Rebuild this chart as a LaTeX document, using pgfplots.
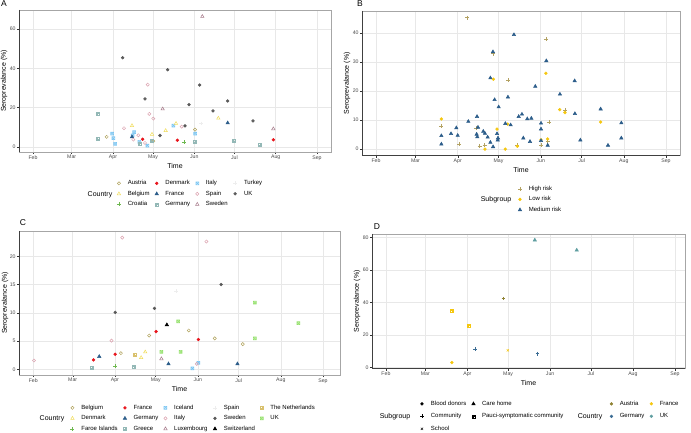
\documentclass[border=0pt]{standalone}
\usepackage{fontspec}
\setmainfont{Liberation Sans}
\usepackage{pgfplots}
\pgfplotsset{compat=1.18}

% country / group colours
\definecolor{c1}{HTML}{B0A25C}
\definecolor{c2}{HTML}{F0DC5A}
\definecolor{c3}{HTML}{6DB84F}
\definecolor{c4}{HTML}{E8141C}
\definecolor{c5}{HTML}{2C5D8A}
\definecolor{c6}{HTML}{93B8B6}
\definecolor{c7}{HTML}{7CC6F2}
\definecolor{c8}{HTML}{DBA1AE}
\definecolor{c9}{HTML}{A67A8A}
\definecolor{c10}{HTML}{EDEDED}
\definecolor{c11}{HTML}{595959}
\definecolor{c12}{HTML}{000000}
\definecolor{c13}{HTML}{D9C16E}
\definecolor{c14}{HTML}{93E06A}
\definecolor{hr}{HTML}{B3A263}
\definecolor{lr}{HTML}{F5C710}
\definecolor{mr}{HTML}{2C5D8A}
\definecolor{dAT}{HTML}{8F8233}
\definecolor{dFR}{HTML}{F5C710}
\definecolor{dDE}{HTML}{3B6C94}
\definecolor{dUK}{HTML}{5F9EA0}

% square with plus / square with cross
\pgfdeclareplotmark{boxplus}{%
  \pgfpathrectangle{\pgfpoint{-0.75\pgfplotmarksize}{-0.75\pgfplotmarksize}}{\pgfpoint{1.5\pgfplotmarksize}{1.5\pgfplotmarksize}}%
  \pgfpathmoveto{\pgfpoint{-0.75\pgfplotmarksize}{0pt}}\pgfpathlineto{\pgfpoint{0.75\pgfplotmarksize}{0pt}}%
  \pgfpathmoveto{\pgfpoint{0pt}{-0.75\pgfplotmarksize}}\pgfpathlineto{\pgfpoint{0pt}{0.75\pgfplotmarksize}}%
  \pgfusepathqstroke}
\pgfdeclareplotmark{boxtimes}{%
  \pgfpathrectangle{\pgfpoint{-0.75\pgfplotmarksize}{-0.75\pgfplotmarksize}}{\pgfpoint{1.5\pgfplotmarksize}{1.5\pgfplotmarksize}}%
  \pgfpathmoveto{\pgfpoint{-0.75\pgfplotmarksize}{-0.75\pgfplotmarksize}}\pgfpathlineto{\pgfpoint{0.75\pgfplotmarksize}{0.75\pgfplotmarksize}}%
  \pgfpathmoveto{\pgfpoint{-0.75\pgfplotmarksize}{0.75\pgfplotmarksize}}\pgfpathlineto{\pgfpoint{0.75\pgfplotmarksize}{-0.75\pgfplotmarksize}}%
  \pgfusepathqstroke}

\pgfplotsset{
  pt/.style={only marks, mark options={solid, line width=0.5pt},
    legend image code/.code={\draw[##1] plot coordinates {(0pt,0pt)};}},
  sO/.style={pt, mark=o, color=#1, mark size=1.6pt},
  sT/.style={pt, mark=triangle, color=#1, mark size=1.95pt},
  sP/.style={pt, mark=+, color=#1, mark size=1.95pt},
  sD/.style={pt, mark=*, color=#1, mark size=1.4pt},
  sF/.style={pt, mark=triangle*, color=#1, mark size=1.95pt},
  sB/.style={pt, mark=boxplus, color=#1, mark size=2pt},
  sX/.style={pt, mark=boxtimes, color=#1, mark size=2pt},
  sx/.style={pt, mark=x, color=#1, mark size=1.6pt},
  leg/.style={
    legend cell align=left,
    legend style={draw=none, fill=none, inner sep=0pt, outer sep=0pt,
      anchor=north west, font=\fontsize{6}{7}\selectfont,
      nodes={inner sep=0pt, text height=4.4pt, text depth=1.3pt},
      row sep=4.8pt, column sep=7pt,
      /tikz/every even column/.append style={column sep=5.5pt}},
  },
  panel/.style={
    leg, scale only axis, anchor=south west,
    xmin=20.5, xmax=254.5,
    xtick={31,60,91,121,152,182,213,244},
    xticklabels={Feb,Mar,Apr,May,Jun,Jul,Aug,Sep},
    tick pos=left, tick align=outside, major tick length=2.2pt,
    tick style={color=black!80, line width=0.4pt},
    grid=major, major grid style={color=black!9, line width=0.5pt},
    axis line style={color=black!35, line width=0.5pt},
    ticklabel style={font=\fontsize{5.2}{6}\selectfont, text=black!70, inner sep=1pt},
    /pgf/number format/assume math mode=true,
    xlabel={Time}, ylabel={Seroprevalance (\%)},
    label style={font=\fontsize{7}{8}\selectfont},
  },
}
\newcommand{\darkaxes}{\draw[black!75, line width=0.5pt] (rel axis cs:0,1) -- (rel axis cs:0,0) -- (rel axis cs:1,0);}

\begin{document}
\begin{tikzpicture}
\useasboundingbox (0,0) rectangle (691pt,433pt);

% ---------------- A ----------------
\begin{axis}[panel, at={(19pt,281pt)}, width=312pt, height=142pt,
  ymin=-2.6, ymax=69.7, ytick={0,20,40,60},
  ylabel style={at={(axis description cs:-0.048,0.5)}, anchor=center},
  xlabel style={at={(axis description cs:0.5,-0.0986)}, anchor=center},
  legend columns=4, legend style={at={(0.314,-0.2007)}}]
\addplot[sO=c1] coordinates {(86.25,5.1) (152.5,8.8) (121.25,2.9)};
\addlegendentry{Austria}
\addplot[sD=c4] coordinates {(113.25,3.9) (139.25,3.4) (211.25,3.6)};
\addlegendentry{Denmark}
\addplot[sX=c7] coordinates {(90.25,6.8) (91.25,4.4) (92.5,1.5) (106.75,7.5) (105.75,5.8) (110.75,2.5) (116.75,0.7) (136.25,10.8) (152.5,6.8)};
\addlegendentry{Italy}
\addplot[sP=c10] coordinates {(157,11.9)};
\addlegendentry{Turkey}
\addplot[sT=c2] coordinates {(105.25,10.8) (120.25,6.4) (130.5,8.3) (138.25,11.9) (170,14.6)};
\addlegendentry{Belgium}
\addplot[sF=c5] coordinates {(105.25,5.1) (177,12.2)};
\addlegendentry{France}
\addplot[sO=c8] coordinates {(99.25,9.5) (117,31.7) (118.25,16.8) (121.25,14.4) (106.25,3.7) (110,5.9) (115,2.0) (142.5,10.3)};
\addlegendentry{Spain}
\addplot[sD=c11] coordinates {(98.25,45.4) (115,24.4) (132,39.3) (126.25,5.8) (145,10.7) (148,21.5) (156,31.5) (166,18.3) (177,23.4) (196,13.2)};
\addlegendentry{UK}
\addplot[sP=c3] coordinates {(144.5,2.4)};
\addlegendentry{Croatia}
\addplot[sB=c6] coordinates {(79.25,16.9) (79.25,4.1) (110.75,1.7) (120,2.9) (152.5,2.4) (181.25,2.9) (201.25,1.0)};
\addlegendentry{Germany}
\addplot[sT=c9] coordinates {(158,66.4) (128.25,19.3) (211.25,9.2)};
\addlegendentry{Sweden}
\darkaxes
\end{axis}

% ---------------- B ----------------
\begin{axis}[panel, at={(362pt,277.3pt)}, width=318pt, height=144.7pt,
  xmin=20.7, xmax=254.3,
  ymin=-2.27, ymax=47.57, ytick={0,10,20,30,40},
  ylabel style={at={(axis description cs:-0.047,0.5)}, anchor=center},
  xlabel style={at={(axis description cs:0.5,-0.099)}, anchor=center},
  legend columns=1, legend style={at={(0.4906,-0.2094)}}]
\addplot[sP=hr] coordinates {(98.1,45.3) (79,8.0) (92,1.8) (107.1,1.1) (110.8,1.3) (104.4,7.2) (117.2,32.9) (128,23.7) (134.8,1.3) (155.8,37.8) (152.2,1.4) (157.1,2.6) (158,9.3) (170,13.5)};
\addlegendentry{High risk}
\addplot[sD=lr] coordinates {(79,10.4) (117.2,24.1) (119.9,6.9) (111,0) (126,0) (134.8,1.0) (155.8,26.1) (152.2,3.2) (157.1,3.5) (165.9,13.6) (169.8,12.6) (196,9.3) (127.7,8.6)};
\addlegendentry{Low risk}
\addplot[sF=mr] coordinates {(79,4.6) (79,1.7) (86.1,5.3) (90,7.3) (91,4.7) (98.8,9.5) (105.2,11.2) (105.9,7.5) (104.9,5.1) (105.4,4.2) (109.8,6.1) (111,5.4) (113,4.1) (115,2.3) (117,0.8) (115,24.5) (116.9,33.5) (118.1,17.0) (119.9,5.3) (120.4,3.1) (120.6,3.8) (121.1,14.5) (126,8.8) (127.9,17.9) (129.9,8.3) (132.3,39.4) (135.8,11.2) (138.2,12.0) (139.2,3.8) (142.1,10.4) (144.1,2.6) (145.1,10.6) (148,21.6) (152.2,8.9) (152.2,6.9) (152.2,2.9) (156.1,30.4) (157.1,1.3) (166.1,18.9) (176.9,23.5) (177.1,12.2) (181.1,3.1) (196,13.8) (201.4,1.3) (211.2,9.0) (211.2,3.8)};
\addlegendentry{Medium risk}
\darkaxes
\end{axis}

% ---------------- C ----------------
\begin{axis}[panel, at={(19pt,58pt)}, width=321pt, height=144pt,
  xmin=20.5, xmax=256.5,
  ymin=-0.96, ymax=24.46, ytick={0,5,10,15,20},
  ylabel style={at={(axis description cs:-0.0436,0.5)}, anchor=center},
  xlabel style={at={(axis description cs:0.5,-0.097)}, anchor=center},
  legend columns=5, legend style={at={(0.1604,-0.2083)}}]
\addplot[sO=c1] coordinates {(95.4,2.9) (116.2,6.0) (145.3,6.9) (164.4,5.5) (185,4.5)};
\addlegendentry{Belgium}
\addplot[sD=c4] coordinates {(75.3,1.7) (91.2,2.7) (121.3,6.7) (152.4,5.3)};
\addlegendentry{France}
\addplot[sX=c7] coordinates {(148,0.2) (152.4,1.2)};
\addlegendentry{Iceland}
\addplot[sP=c10] coordinates {(135.8,13.8)};
\addlegendentry{Spain}
\addplot[sB=c13] coordinates {(105.4,2.6)};
\addlegendentry{The Netherlands}
\addplot[sT=c2] coordinates {(113.3,3.1) (110.3,2.1)};
\addlegendentry{Denmark}
\addplot[sF=c5] coordinates {(79.5,2.3) (130.4,1.0) (181.1,1.0)};
\addlegendentry{Germany}
\addplot[sO=c8] coordinates {(96.4,23.3) (158.3,22.6) (88.5,5.1) (31.5,1.6) (151.2,1.0)};
\addlegendentry{Italy}
\addplot[sD=c11] coordinates {(91.2,10.1) (120.1,10.8) (169.1,15.0)};
\addlegendentry{Sweden}
\addplot[sX=c14] coordinates {(137.5,8.5) (125.2,3.1) (139.4,3.1) (194,11.8) (194,5.5) (225.9,8.2)};
\addlegendentry{UK}
\addplot[sP=c3] coordinates {(91.2,0.6)};
\addlegendentry{Faroe Islands}
\addplot[sB=c6] coordinates {(74.3,0.3) (105.2,0.5)};
\addlegendentry{Greece}
\addplot[sT=c9] coordinates {(125.2,1.9)};
\addlegendentry{Luxembourg}
\addplot[sF=c12] coordinates {(129.2,7.9)};
\addlegendentry{Switzerland}
\darkaxes
\end{axis}

% ---------------- D ----------------
\begin{axis}[panel, at={(372pt,64.3pt)}, width=313pt, height=134.7pt,
  xmin=20.7, xmax=251.4,
  ymin=-0.88, ymax=82.2, ytick={0,20,40,60,80},
  ylabel style={at={(axis description cs:-0.048,0.5)}, anchor=center},
  xlabel style={at={(axis description cs:0.5,-0.106)}, anchor=center},
  legend columns=2, legend style={at={(0.1534,-0.2398)}, row sep=6.8pt}]
\addlegendimage{sD=black}\addlegendentry{Blood donors}
\addlegendimage{sF=black}\addlegendentry{Care home}
\addlegendimage{sP=black}\addlegendentry{Community}
\addlegendimage{sB=black}\addlegendentry{Pauci-symptomatic community}
\addlegendimage{sx=black}\addlegendentry{School}
\addplot[sF=dUK, forget plot] coordinates {(140.7,78.4) (171.6,72.2)};
\addplot[sP=dAT, forget plot] coordinates {(117.6,42.4)};
\addplot[sB=dFR, forget plot] coordinates {(79.6,34.9) (91.9,25.7)};
\addplot[sP=dDE, forget plot] coordinates {(96.8,11.4) (142.7,8.4)};
\addplot[sx=dFR, forget plot] coordinates {(120.8,10.4)};
\addplot[sD=dFR, forget plot] coordinates {(79.6,2.9)};
\darkaxes
\end{axis}
\begin{axis}[leg, scale only axis, anchor=south west, hide axis,
  at={(372pt,64.3pt)}, width=313pt, height=134.7pt,
  xmin=0, xmax=1, ymin=0, ymax=1,
  legend columns=2, legend style={at={(0.7604,-0.2398)}, row sep=6.8pt}]
\addlegendimage{sD=dAT}\addlegendentry{Austria}
\addlegendimage{sD=dFR}\addlegendentry{France}
\addlegendimage{sD=dDE}\addlegendentry{Germany}
\addlegendimage{sD=dUK}\addlegendentry{UK}
\end{axis}

% panel tags and legend titles
\node[font=\fontsize{8.5}{9}\selectfont] at (4pt,429pt) {A};
\node[font=\fontsize{8.5}{9}\selectfont] at (360pt,429pt) {B};
\node[font=\fontsize{8.5}{9}\selectfont] at (23pt,210pt) {C};
\node[font=\fontsize{8.5}{9}\selectfont] at (377pt,206pt) {D};
\node[font=\fontsize{7}{8}\selectfont] at (100pt,238.3pt) {Country};
\node[font=\fontsize{7}{8}\selectfont] at (496pt,233pt) {Subgroup};
\node[font=\fontsize{7}{8}\selectfont] at (52pt,14pt) {Country};
\node[font=\fontsize{7}{8}\selectfont] at (395pt,16.5pt) {Subgroup};
\node[font=\fontsize{7}{8}\selectfont] at (590pt,16.5pt) {Country};
\end{tikzpicture}
\end{document}
